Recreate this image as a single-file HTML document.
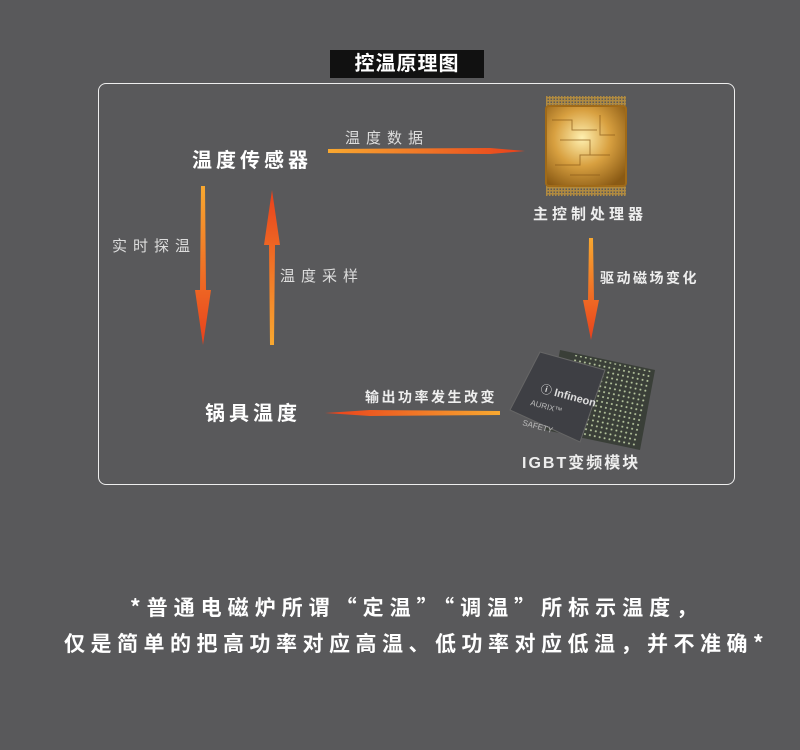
<!DOCTYPE html>
<html><head><meta charset="utf-8"><style>
body{margin:0;width:800px;height:750px;background:#59595b;font-family:"Liberation Sans","Noto Sans CJK SC",sans-serif;position:relative;overflow:hidden;color:#fff}
.a{position:absolute;white-space:nowrap}
.t{background:#111;left:330px;top:50px;width:154px;height:28px;font-size:20px;font-weight:bold;text-align:center;line-height:28px;letter-spacing:1px}
.box{position:absolute;left:98px;top:83px;width:635px;height:400px;border:1px solid #eee;border-radius:8px}
.n{font-size:20px;font-weight:bold;letter-spacing:4px}
.l{font-size:15px;color:#ddd;letter-spacing:6px}
.s{font-size:14px;font-weight:bold;color:#eee;letter-spacing:2.5px}
.f{font-family:"Noto Sans CJK SC",sans-serif;font-size:21px;font-weight:bold}
</style></head><body>
<div class="a t">控温原理图</div>
<div class="box"></div>
<svg class="a" style="left:0;top:0" width="800" height="750">
<defs>
<linearGradient id="h" x1="0" x2="1"><stop offset="0" stop-color="#f8a830"/><stop offset="1" stop-color="#e8401c"/></linearGradient>
<linearGradient id="hl" x1="1" x2="0"><stop offset="0" stop-color="#f8a830"/><stop offset="1" stop-color="#e8401c"/></linearGradient>
<linearGradient id="v" x1="0" y1="0" x2="0" y2="1"><stop offset="0" stop-color="#f8a830"/><stop offset="1" stop-color="#e8401c"/></linearGradient>
<linearGradient id="vu" x1="0" y1="1" x2="0" y2="0"><stop offset="0" stop-color="#f8a830"/><stop offset="1" stop-color="#e8401c"/></linearGradient>
<radialGradient id="chip" cx="0.45" cy="0.4" r="0.7"><stop offset="0" stop-color="#fff0b0"/><stop offset="0.5" stop-color="#d8a040"/><stop offset="1" stop-color="#8a5a14"/></radialGradient>
<pattern id="pins" width="3" height="3" patternUnits="userSpaceOnUse"><rect width="1.5" height="3" fill="#b08a40"/></pattern>
<pattern id="dots" width="5" height="5" patternUnits="userSpaceOnUse"><circle cx="2.5" cy="2.5" r="1" fill="#b8c8a0"/></pattern>
</defs>
<polygon points="328,149 490,148 525,151 490,154 328,153" fill="url(#h)"/>
<polygon points="201,186 205,186 206,290 211,290 203,345 195,290 200,290" fill="url(#v)"/>
<polygon points="270,345 274,345 275,245 280,245 272,190 264,245 269,245" fill="url(#vu)"/>
<polygon points="589,238 593,238 594,300 599,300 591,340 583,300 588,300" fill="url(#v)"/>
<polygon points="500,411 500,415 370,416 325,413 370,410" fill="url(#hl)"/>
<rect x="546" y="96" width="80" height="100" fill="url(#pins)"/>
<rect x="536" y="106" width="100" height="80" fill="url(#pins)" transform="rotate(90 586 146)"/>
<rect x="546" y="106" width="80" height="80" rx="3" fill="url(#chip)" stroke="#a06a18" stroke-width="2"/>
<g stroke="#8a5a18" stroke-width="1" fill="none" opacity="0.7">
<path d="M552 120h20v10h25M560 140h30v15h20M555 165h25v-10h30M600 115v20h15M570 175h30"/>
</g>
<polygon points="560,350 655,370 640,450 545,430" fill="#3a3f38"/>
<rect x="565" y="362" width="80" height="78" fill="url(#dots)" transform="rotate(12 605 400)"/>
<polygon points="510,410 540,352 605,370 580,442" fill="#3e3f44" stroke="#666"/>
<text x="540" y="392" font-size="11" fill="#ddd" font-weight="bold" transform="rotate(15 540 392)">ⓘ Infineon</text>
<text x="530" y="405" font-size="8" fill="#bbb" transform="rotate(15 530 405)">AURIX™</text>
<text x="522" y="425" font-size="8" fill="#bbb" transform="rotate(15 522 425)">SAFETY</text>
</svg>
<div class="a n" style="left:192px;top:144px">温度传感器</div>
<div class="a l" style="left:345px;top:127px">温度数据</div>
<div class="a l" style="left:112px;top:235px">实时探温</div>
<div class="a l" style="left:280px;top:265px">温度采样</div>
<div class="a s" style="left:533px;top:203px;font-size:15px;letter-spacing:4px">主控制处理器</div>
<div class="a s" style="left:600px;top:268px">驱动磁场变化</div>
<div class="a s" style="left:365px;top:387px">输出功率发生改变</div>
<div class="a n" style="left:205px;top:397px">锅具温度</div>
<div class="a s" style="left:522px;top:449px;font-size:16px;letter-spacing:2px">IGBT变频模块</div>
<div class="a f" style="left:130px;top:592px;letter-spacing:6px">*普通电磁炉所谓“定温”“调温”所标示温度，</div>
<div class="a f" style="left:64px;top:628px;letter-spacing:5.5px">仅是简单的把高功率对应高温、低功率对应低温，并不准确*</div>
</body></html>
